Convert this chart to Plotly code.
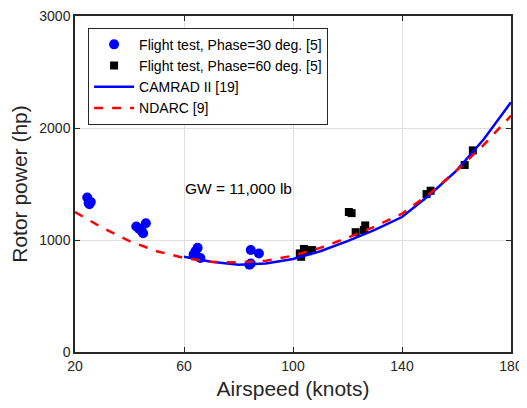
import plotly.graph_objects as go

# Flight test, Phase = 30 deg (blue circles)
ft30_speed = [24.5, 25.0, 25.8, 25.3, 42.5, 43.5, 44.5, 45.0, 46.0, 63.5, 64.2, 65.0, 66.0, 84.5, 84.5, 84.0, 87.5]
ft30_power = [1380, 1330, 1340, 1320, 1120, 1100, 1080, 1060, 1150, 870, 900, 930, 840, 910, 790, 780, 880]

# Flight test, Phase = 60 deg (black squares)
ft60_speed = [102.5, 103.0, 104.0, 105.5, 107.0, 120.5, 121.5, 123.0, 126.0, 126.5, 149.0, 150.5, 163.0, 166.0]
ft60_power = [880, 850, 920, 900, 910, 1250, 1240, 1070, 1090, 1130, 1410, 1440, 1670, 1800]

# CAMRAD II [19]
camrad_speed = [60, 70, 80, 90, 100, 110, 120, 130, 140, 150, 160, 170, 180]
camrad_power = [850, 805, 778, 790, 830, 900, 990, 1090, 1205, 1400, 1620, 1900, 2230]

# NDARC [9]
ndarc_speed = [20, 30, 40, 50, 60, 70, 80, 90, 100, 110, 120, 130, 140, 150, 160, 170, 180]
ndarc_power = [1250, 1110, 990, 900, 840, 805, 800, 815, 860, 930, 1020, 1120, 1235, 1410, 1620, 1850, 2110]

x_ticks = [20, 60, 100, 140, 180]
y_ticks = [0, 1000, 2000, 3000]

fig = go.Figure()
fig.add_trace(go.Scatter(x=ft30_speed, y=ft30_power, mode="markers",
                         name="Flight test, Phase=30 deg. [5]",
                         marker=dict(symbol="circle", size=10, color="#0000ff")))
fig.add_trace(go.Scatter(x=ft60_speed, y=ft60_power, mode="markers",
                         name="Flight test, Phase=60 deg. [5]",
                         marker=dict(symbol="square", size=8, color="#000000")))
fig.add_trace(go.Scatter(x=camrad_speed, y=camrad_power, mode="lines",
                         name="CAMRAD II [19]",
                         line=dict(color="#0000ff", width=2.5)))
fig.add_trace(go.Scatter(x=ndarc_speed, y=ndarc_power, mode="lines",
                         name="NDARC [9]",
                         line=dict(color="#ff0000", width=2.5, dash="dash")))

fig.add_annotation(x=80, y=1460, text="GW = 11,000 lb", showarrow=False,
                   font=dict(size=15.5, color="#000000"))

axis_common = dict(showline=True, linecolor="#262626", linewidth=1.5, mirror="ticks",
                   ticks="inside", ticklen=5, tickcolor="#262626",
                   showgrid=True, gridcolor="#dfdfdf", gridwidth=1,
                   zeroline=False, tickfont=dict(size=14, color="#262626"),
                   automargin=False, ticklabeloverflow="allow")

fig.update_xaxes(range=[20, 180], tickvals=x_ticks,
                 title=dict(text="Airspeed (knots)", font=dict(size=21, color="#262626"), standoff=12),
                 **axis_common)
fig.update_yaxes(range=[0, 3000], tickvals=y_ticks,
                 title=dict(text="Rotor power (hp)", font=dict(size=21, color="#262626"), standoff=14),
                 **axis_common)

# page body has an 8 px margin, so the figure is offset and sized to fit the window
fig.update_layout(
    width=519, height=392,
    margin=dict(l=67, r=16, t=8, b=48),
    paper_bgcolor="white", plot_bgcolor="white",
    font=dict(family="Liberation Sans, Arial, sans-serif", color="#262626"),
    showlegend=True,
    legend=dict(x=0.03, y=0.965, xanchor="left", yanchor="top",
                bgcolor="white", bordercolor="#262626", borderwidth=1,
                font=dict(size=14, color="#000000"),
                tracegroupgap=0, itemsizing="trace", itemwidth=40),
)

fig.write_html("out.html")
